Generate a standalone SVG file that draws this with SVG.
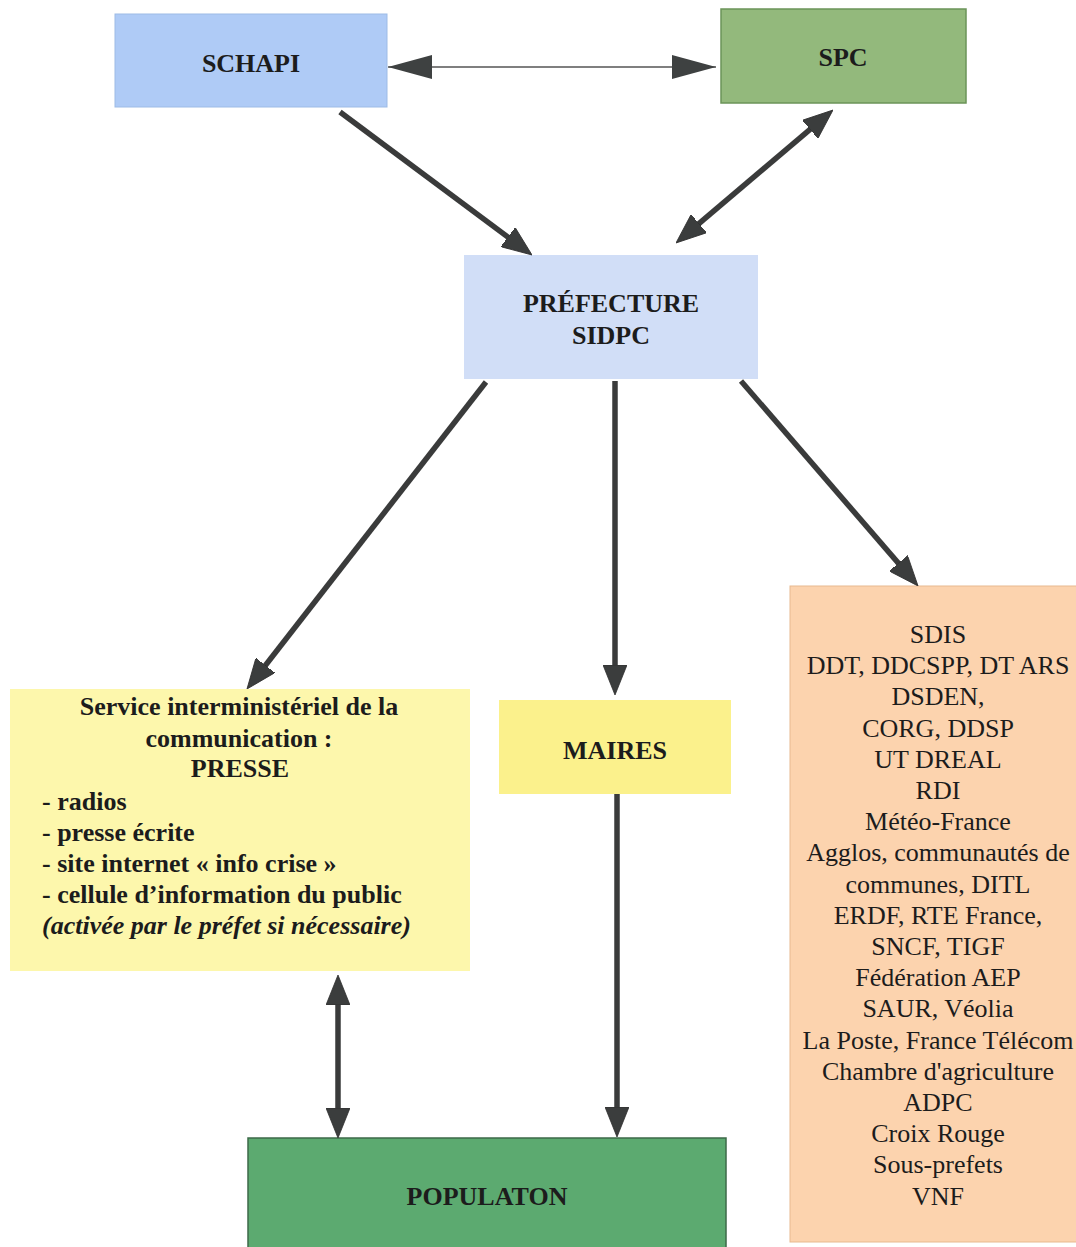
<svg xmlns="http://www.w3.org/2000/svg" width="1076" height="1247" viewBox="0 0 1076 1247">
<style>
text{font-family:"Liberation Serif","Times New Roman",serif;fill:#1c1c1c}
.b{font-weight:bold;font-size:26px}
.c{text-anchor:middle}
.r{font-size:26px;text-anchor:middle}
.thick{stroke:#3a3b3b;stroke-width:5.5;fill:none;marker-end:url(#ah)}
.both{marker-start:url(#ah)}
</style>
<defs>
<marker id="ah" markerUnits="userSpaceOnUse" viewBox="0 0 30 24" refX="22" refY="12" markerWidth="30" markerHeight="24" orient="auto-start-reverse">
<path d="M0,0 L30,12 L0,24 z" fill="#3b3d3d" stroke="#2e2e2e" stroke-width="0.8"/>
</marker>
<marker id="ahs" markerUnits="userSpaceOnUse" viewBox="0 0 44 24" refX="44" refY="12" markerWidth="44" markerHeight="24" orient="auto-start-reverse">
<path d="M0,0 L44,12 L0,24 z" fill="#3e4141"/>
</marker>
</defs>
<rect width="1076" height="1247" fill="#ffffff"/>
<g id="schapi">
<rect x="115" y="14" width="272" height="93" fill="#afcbf6" stroke="#9dbbe6" stroke-width="1"/>
<text class="b c" x="251" y="72">SCHAPI</text>
</g>
<g id="spc">
<rect x="721" y="9" width="245" height="94" fill="#93b97c" stroke="#6b9458" stroke-width="1.5"/>
<text class="b c" x="843" y="66">SPC</text>
</g>
<g id="prefecture">
<rect x="464" y="255" width="294" height="124" fill="#d1def7"/>
<text class="b c" x="611" y="312">PRÉFECTURE</text>
<text class="b c" x="611" y="344">SIDPC</text>
</g>
<g id="presse">
<rect x="10" y="689" width="460" height="282" fill="#fdf7ac"/>
<text class="b c" x="239" y="715">Service interministériel de la</text>
<text class="b c" x="239" y="747">communication :</text>
<text class="b c" x="240" y="777">PRESSE</text>
<text class="b" x="42" y="810">- radios</text>
<text class="b" x="42" y="841">- presse écrite</text>
<text class="b" x="42" y="872">- site internet « info crise »</text>
<text class="b" x="42" y="903">- cellule d’information du public</text>
<text class="b" x="42" y="934" font-style="italic">(activée par le préfet si nécessaire)</text>
</g>
<g id="maires">
<rect x="499" y="700" width="232" height="94" fill="#fbf18c"/>
<text class="b c" x="615" y="759">MAIRES</text>
</g>
<g id="services">
<rect x="790" y="586" width="290" height="656" fill="#fcd3ae" stroke="#e8b98f" stroke-width="1"/>
<text class="r" x="938" y="643">SDIS</text>
<text class="r" x="938" y="674">DDT, DDCSPP, DT ARS</text>
<text class="r" x="938" y="705">DSDEN,</text>
<text class="r" x="938" y="737">CORG, DDSP</text>
<text class="r" x="938" y="768">UT DREAL</text>
<text class="r" x="938" y="799">RDI</text>
<text class="r" x="938" y="830">Météo-France</text>
<text class="r" x="938" y="861">Agglos, communautés de</text>
<text class="r" x="938" y="893">communes, DITL</text>
<text class="r" x="938" y="924">ERDF, RTE France,</text>
<text class="r" x="938" y="955">SNCF, TIGF</text>
<text class="r" x="938" y="986">Fédération AEP</text>
<text class="r" x="938" y="1017">SAUR, Véolia</text>
<text class="r" x="938" y="1049">La Poste, France Télécom</text>
<text class="r" x="938" y="1080">Chambre d'agriculture</text>
<text class="r" x="938" y="1111">ADPC</text>
<text class="r" x="938" y="1142">Croix Rouge</text>
<text class="r" x="938" y="1173">Sous-prefets</text>
<text class="r" x="938" y="1205">VNF</text>
</g>
<g id="population">
<rect x="248" y="1138" width="478" height="115" fill="#5caa70" stroke="#3c6a48" stroke-width="1.5"/>
<text class="b c" x="487" y="1205">POPULATON</text>
</g>
<g id="connectors">
<line x1="388" y1="67" x2="716" y2="67" stroke="#555" stroke-width="1.5" marker-start="url(#ahs)" marker-end="url(#ahs)"/>
<line class="thick" x1="340" y1="112" x2="525.6" y2="250.2"/>
<line class="thick both" x1="826.9" y1="115.2" x2="682.1" y2="237.8"/>
<line class="thick" x1="486" y1="382" x2="251.9" y2="682.7"/>
<line class="thick" x1="615" y1="381" x2="615" y2="687"/>
<line class="thick" x1="741" y1="381" x2="912.8" y2="579.9"/>
<line class="thick both" x1="338" y1="983" x2="338" y2="1130"/>
<line class="thick" x1="617" y1="794" x2="617" y2="1129"/>
</g>
</svg>
